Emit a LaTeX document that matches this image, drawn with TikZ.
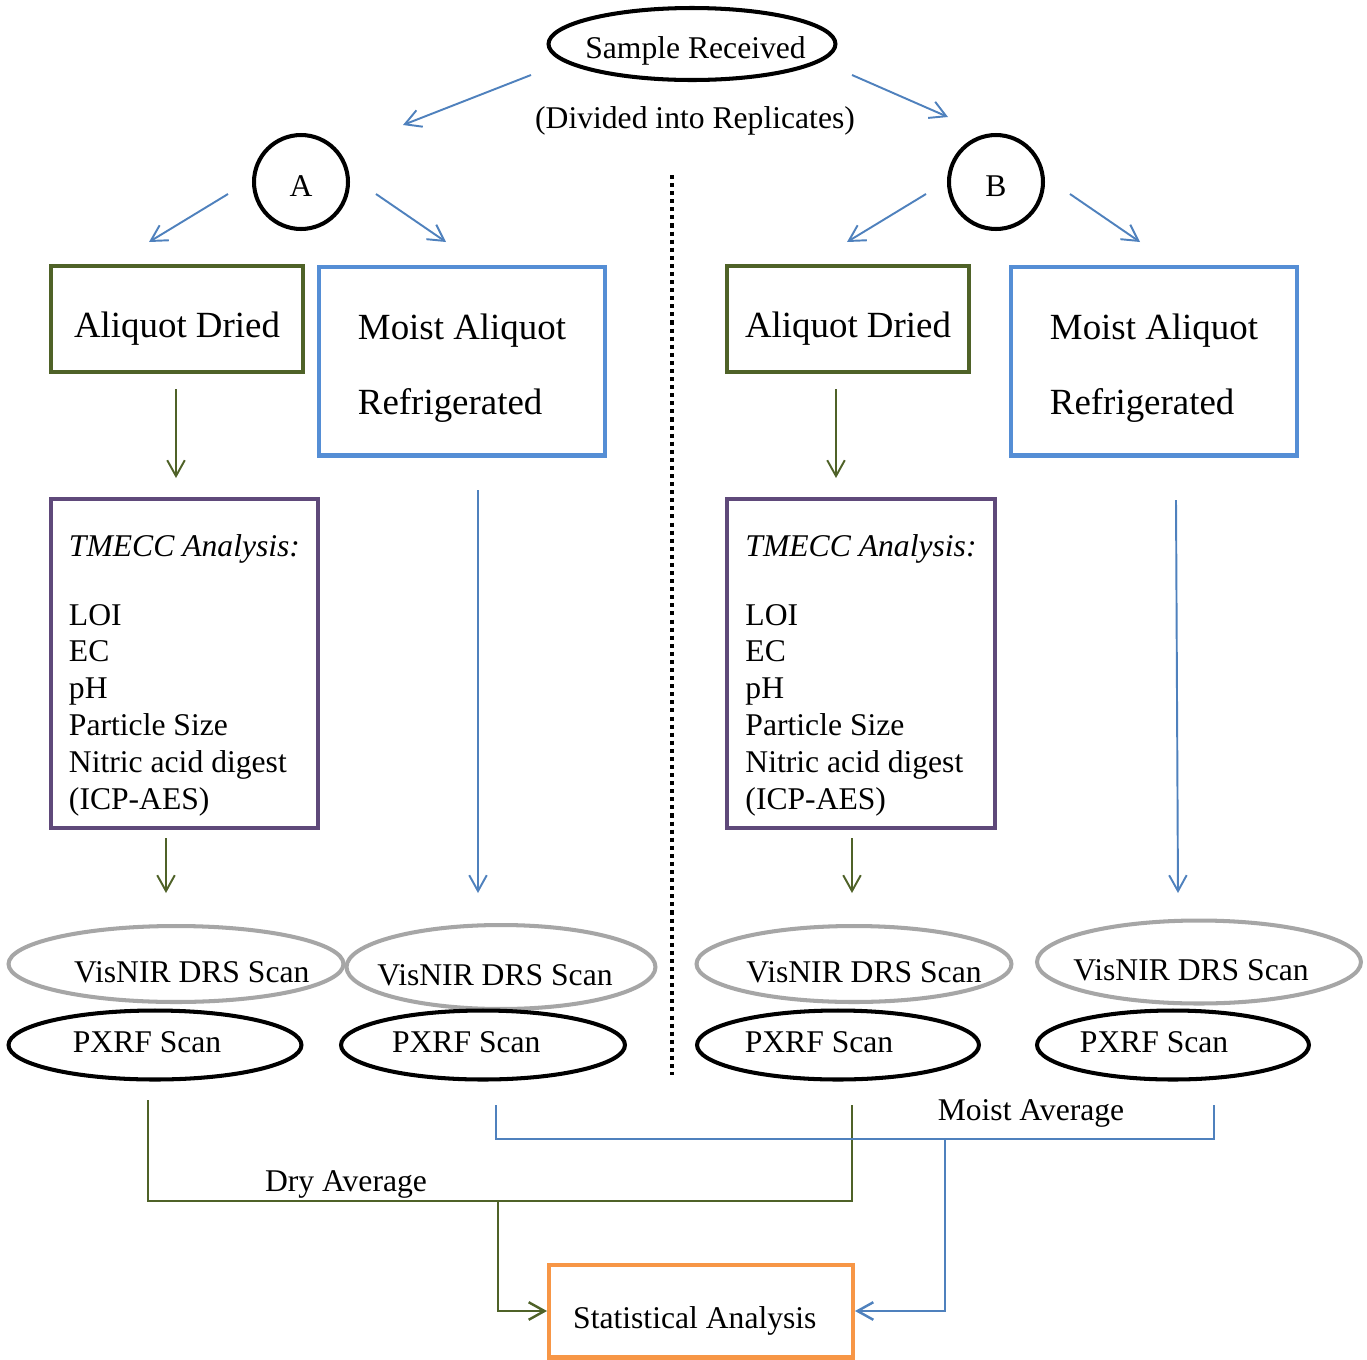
\documentclass[tikz,border=0pt]{standalone}
\usepackage{fontspec}
\setmainfont{Liberation Serif}
\usepackage{tikz}
\usetikzlibrary{positioning,shapes.geometric,arrows.meta}
\definecolor{drygreen}{HTML}{4F6228}
\definecolor{moistblue}{HTML}{558ED5}
\definecolor{lineblue}{HTML}{4F81BD}
\definecolor{tmpurple}{HTML}{5F497A}
\definecolor{statorange}{HTML}{F79646}
\definecolor{scangray}{HTML}{A6A6A6}

\begin{document}
\begin{tikzpicture}[x=0.02cm, y=-0.02cm,
  small/.style={font=\fontsize{18}{21}\selectfont},
  big/.style={font=\fontsize{21}{43}\selectfont},
  tshift/.style={execute at begin node={\hspace*{#1}}},
  oval/.style={ellipse, draw=black, line width=2.3pt, fill=white, inner xsep=-20pt, inner ysep=0pt, small},
  rep/.style={circle, draw=black, line width=2.3pt, minimum size=1.88cm, inner sep=0pt,
    text height=20pt, text depth=4pt, small},
  drybox/.style={rectangle, draw=drygreen, line width=2.3pt, minimum height=2.12cm,
    text height=26pt, text depth=5pt, big},
  moistbox/.style={rectangle, draw=moistblue, line width=2.3pt, minimum width=5.72cm,
    minimum height=3.78cm, align=left, big},
  tmecc/.style={rectangle, draw=tmpurple, line width=2.3pt, minimum height=6.58cm, align=left, small},
  visnir/.style={oval, draw=scangray, text height=21.6pt, text depth=0pt},
  pxrf/.style={oval, minimum height=1.38cm, text height=8pt, text depth=0pt},
  garr/.style={-{Straight Barb[length=9pt,width=10pt]}, line width=1.1pt, color=drygreen},
  barr/.style={-{Straight Barb[length=9pt,width=10pt]}, line width=1.1pt, color=lineblue},
  gline/.style={line width=0.9pt, color=drygreen},
  bline/.style={line width=0.9pt, color=lineblue}
]
\useasboundingbox (0,0) rectangle (1367,1360);
% top
\node[oval, minimum width=5.74cm, minimum height=1.44cm, text height=20pt, text depth=4pt,
  tshift=4pt] (sample) at (692,44) {Sample Received};
\node[small] (divided) at (695,121) {(Divided into Replicates)};
\node[rep] (repA) at (301,182) {A};
\node[rep] (repB) at (996,182) {B};
% replicate A
\node[drybox, minimum width=5.04cm] (dryA) at (177,319) {Aliquot Dried};
\node[moistbox] (moistA) at (462,361) {\rule{0pt}{22.5pt}Moist Aliquot\\Refrigerated};
\node[tmecc, minimum width=5.34cm] (tmA) at (184.5,663.5)
  {\rule{0pt}{26pt}\textit{TMECC Analysis:}\\[18pt]LOI\\EC\\pH\\Particle Size\\Nitric acid digest\\(ICP-AES)};
\node[visnir, minimum width=6.70cm, minimum height=1.52cm, tshift=18pt] (visA1) at (176,964) {VisNIR DRS Scan};
\node[visnir, minimum width=6.18cm, minimum height=1.68cm, tshift=-6.8pt] (visA2) at (501,967) {VisNIR DRS Scan};
\node[pxrf, minimum width=5.86cm, tshift=-9pt] (pxA1) at (155,1045) {PXRF Scan};
\node[pxrf, minimum width=5.68cm, tshift=-19pt] (pxA2) at (483,1045) {PXRF Scan};
% replicate B
\node[drybox, minimum width=4.84cm] (dryB) at (848,319) {Aliquot Dried};
\node[moistbox] (moistB) at (1154,361) {\rule{0pt}{22.5pt}Moist Aliquot\\Refrigerated};
\node[tmecc, minimum width=5.36cm] (tmB) at (861,663.5)
  {\rule{0pt}{26pt}\textit{TMECC Analysis:}\\[18pt]LOI\\EC\\pH\\Particle Size\\Nitric acid digest\\(ICP-AES)};
\node[visnir, minimum width=6.30cm, minimum height=1.52cm, tshift=11.4pt] (visB1) at (854,964) {VisNIR DRS Scan};
\node[visnir, minimum width=6.48cm, minimum height=1.66cm, tshift=-9pt] (visB2) at (1199,962) {VisNIR DRS Scan};
\node[pxrf, minimum width=5.64cm, tshift=-21.6pt] (pxB1) at (838,1045) {PXRF Scan};
\node[pxrf, minimum width=5.44cm, tshift=-21.6pt] (pxB2) at (1173,1045) {PXRF Scan};
% bottom
\node[small] (dryavg) at (346,1184) {Dry Average};
\node[small] (moistavg) at (1031,1113) {Moist Average};
\node[rectangle, draw=statorange, line width=2.3pt, minimum width=6.08cm, minimum height=1.86cm,
  text height=24.4pt, text depth=4pt, tshift=-7pt, small] (stat) at (701,1311) {Statistical Analysis};
% divider
\draw[line width=2.3pt, dash pattern=on 2.3pt off 2.3pt] (672,175) -- (672,1075);
% arrow ends
\coordinate (s1) at (531,75);  \coordinate (s1e) at (403,125);
\coordinate (s2) at (852,75);  \coordinate (s2e) at (948,117);
\coordinate (a1) at (228,194); \coordinate (a1e) at (149,242);
\coordinate (a2) at (376,194); \coordinate (a2e) at (446,242);
\coordinate (b1) at (926,194); \coordinate (b1e) at (847,242);
\coordinate (b2) at (1070,194); \coordinate (b2e) at (1140,242);
\coordinate (gA1) at (176,389); \coordinate (gA1e) at (176,478);
\coordinate (gB1) at (836,389); \coordinate (gB1e) at (836,478);
\coordinate (gA2) at (166,838); \coordinate (gA2e) at (166,893);
\coordinate (gB2) at (852,838); \coordinate (gB2e) at (852,893);
\coordinate (mA) at (478,490); \coordinate (mAe) at (478,893);
\coordinate (mB) at (1176,500); \coordinate (mBe) at (1178,893);
\coordinate (dr1) at (148,1100); \coordinate (dr2) at (852,1105); \coordinate (drm) at (498,1201);
\coordinate (mo1) at (496,1105); \coordinate (mo2) at (1214,1105); \coordinate (mom) at (945,1139);
\draw[barr] (s1) -- (s1e); \draw[barr] (s2) -- (s2e);
\draw[barr] (a1) -- (a1e); \draw[barr] (a2) -- (a2e);
\draw[barr] (b1) -- (b1e); \draw[barr] (b2) -- (b2e);
\draw[garr] (gA1) -- (gA1e); \draw[garr] (gB1) -- (gB1e);
\draw[garr] (gA2) -- (gA2e); \draw[garr] (gB2) -- (gB2e);
\draw[barr] (mA) -- (mAe); \draw[barr] (mB) -- (mBe);
\draw[gline] (dr1) |- (drm) -| (dr2);
\draw[bline] (mo1) |- (mom) -| (mo2);
\draw[garr, line width=1.4pt] (drm) |- (stat.west);
\draw[barr, line width=1.4pt] (mom) |- (stat.east);
\end{tikzpicture}
\end{document}
